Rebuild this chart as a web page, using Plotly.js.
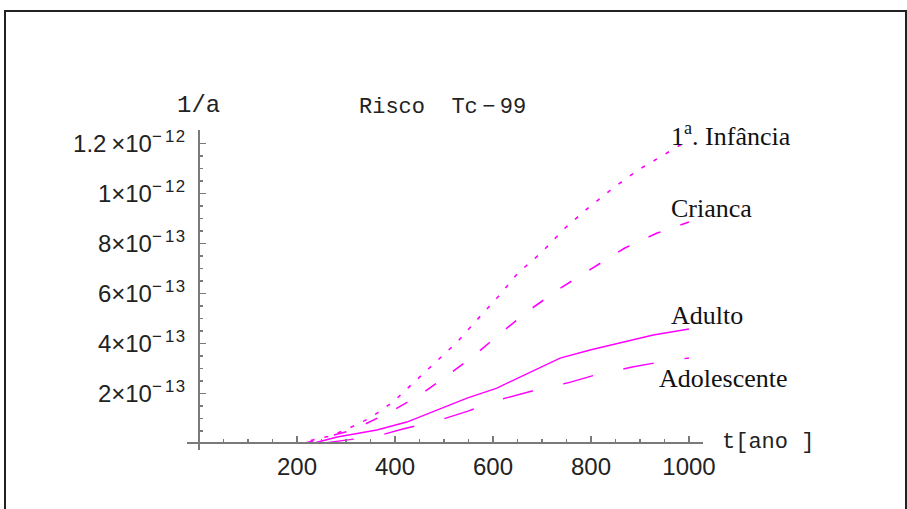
<!DOCTYPE html>
<html>
<head>
<meta charset="utf-8">
<script src="https://cdn.plot.ly/plotly-3.0.1.min.js"></script>
<style>html,body{margin:0;padding:0;background:#fff;}#chart{width:907px;height:509px;}</style>
</head>
<body>
<div id="chart"></div>
<script>
// Series (t in years, risk in 1/a)
const tInfancia = [0, 100, 202, 267, 298, 349, 396, 437, 482, 527, 567, 610, 651, 700, 747, 794, 845, 896, 955, 982, 1000];
const vInfancia = [0, 0, 0, 2.9e-14, 5.3e-14, 1.01e-13, 1.65e-13, 2.41e-13, 3.21e-13, 4.05e-13, 4.93e-13, 5.85e-13, 6.81e-13, 7.65e-13, 8.61e-13, 9.41e-13, 1.021e-12, 1.093e-12, 1.161e-12, 1.193e-12, 1.205e-12];

const tCrianca = [0, 100, 215, 267, 314, 390, 451, 508, 563, 618, 680, 741, 804, 869, 935, 992, 1000];
const vCrianca = [0, 0, 0, 2.9e-14, 5.3e-14, 1.25e-13, 1.93e-13, 2.73e-13, 3.53e-13, 4.45e-13, 5.41e-13, 6.25e-13, 7.01e-13, 7.81e-13, 8.41e-13, 8.81e-13, 8.85e-13];

const tAdulto = [0, 100, 233, 282, 363, 424, 486, 547, 608, 676, 737, 798, 859, 927, 1000];
const vAdulto = [0, 0, 0, 2.5e-14, 5.3e-14, 8.5e-14, 1.33e-13, 1.81e-13, 2.21e-13, 2.85e-13, 3.41e-13, 3.73e-13, 4.01e-13, 4.33e-13, 4.57e-13];

const tAdolescente = [0, 100, 250, 363, 416, 492, 549, 618, 680, 751, 808, 884, 941, 1000];
const vAdolescente = [0, 0, 0, 2.9e-14, 5.7e-14, 9.3e-14, 1.29e-13, 1.77e-13, 2.09e-13, 2.41e-13, 2.73e-13, 3.05e-13, 3.25e-13, 3.41e-13];

const xTickVals = [200, 400, 600, 800, 1000];
const xTickText = ['200', '400', '600', '800', '1000'];
const yTickVals = [2e-13, 4e-13, 6e-13, 8e-13, 1e-12, 1.2e-12];
const yTickText = [
  '2×10<sup>−\u20091\u200a3</sup>',
  '4×10<sup>−\u20091\u200a3</sup>',
  '6×10<sup>−\u20091\u200a3</sup>',
  '8×10<sup>−\u20091\u200a3</sup>',
  '1×10<sup>−\u20091\u200a2</sup>',
  '1.2\u2009×10<sup>−\u20091\u200a2</sup>'
];
const seriesLabels = ['1<sup>a</sup>. Infância', 'Crianca', 'Adulto', 'Adolescente'];

const MAG = '#ff00ff';
function tr(x, y, dash, w) {
  return {x: x, y: y, type: 'scatter', mode: 'lines',
    line: {color: MAG, width: w, dash: dash}, hoverinfo: 'skip', showlegend: false};
}
const data = [
  tr(tInfancia, vInfancia, '4px,10px', 1.6),
  tr(tCrianca, vCrianca, '13px,21px', 1.6),
  tr(tAdulto, vAdulto, 'solid', 1.4),
  tr(tAdolescente, vAdolescente, '31px,31px', 1.4)
];

// plot area: x 187..703 px, y 130..450 px
const L = 187, R = 703, T = 130, B = 450;
const px = v => (v - L) / (R - L);
const py = v => (B - v) / (B - T);

const axisColor = '#7a7a7a';
const tickFont = {family: 'Liberation Sans, Arial, sans-serif', size: 24, color: '#222'};
const monoFont = {family: 'Liberation Mono, Courier New, monospace', size: 22, color: '#222'};
const monoFontBig = {family: 'Liberation Mono, Courier New, monospace', size: 24, color: '#222'};
const serifFont = {family: 'Liberation Serif, Times New Roman, serif', size: 26, color: '#111'};

function ann(text, x, y, font) {
  return {text: text, xref: 'paper', yref: 'paper', x: px(x), y: py(y),
    xanchor: 'center', yanchor: 'middle', showarrow: false, font: font};
}

const layout = {
  width: 907, height: 509,
  margin: {l: L, r: 907 - R, t: T, b: 509 - B, pad: 0},
  paper_bgcolor: '#fff', plot_bgcolor: '#fff',
  showlegend: false,
  xaxis: {
    range: [-24.5, 1028.6], anchor: 'free', position: (B - 443.3) / (B - T),
    showgrid: false, zeroline: false, showline: true, linecolor: axisColor, linewidth: 2,
    tickmode: 'array', tickvals: xTickVals, ticktext: xTickText,
    ticks: 'inside', ticklen: 6, tickwidth: 1.5, tickcolor: axisColor,
    tickfont: tickFont, ticklabelstandoff: 2,
    minor: {tickmode: 'linear', tick0: 0, dtick: 50, ticks: 'inside', ticklen: 3, tickwidth: 1.5, tickcolor: axisColor, showgrid: false}
  },
  yaxis: {
    range: [-2.68e-14, 1.2532e-12], anchor: 'free', position: (199 - L) / (R - L),
    showgrid: false, zeroline: false, showline: true, linecolor: axisColor, linewidth: 2,
    tickmode: 'array', tickvals: yTickVals, ticktext: yTickText,
    ticks: 'inside', ticklen: 6, tickwidth: 1.5, tickcolor: axisColor,
    tickfont: tickFont, ticklabelstandoff: 8,
    minor: {tickmode: 'linear', tick0: 0, dtick: 5e-14, ticks: 'inside', ticklen: 3, tickwidth: 1.5, tickcolor: axisColor, showgrid: false}
  },
  annotations: [
    ann('1/a', 198, 105, monoFontBig),
    ann('Risco\u00a0\u00a0Tc\u2009−\u200999', 442, 108, monoFont),
    ann('t[ano\u00a0]', 768, 442, monoFont),
    ann(seriesLabels[0], 731, 134, serifFont),
    ann(seriesLabels[1], 711, 208, serifFont),
    ann(seriesLabels[2], 707, 315, serifFont),
    ann(seriesLabels[3], 723, 378, serifFont)
  ],
  shapes: [
    {type: 'rect', xref: 'paper', yref: 'paper', x0: px(5), x1: px(906), y0: py(540), y1: py(11),
     line: {color: '#222', width: 2}, fillcolor: 'rgba(0,0,0,0)', layer: 'above'}
  ]
};

Plotly.newPlot('chart', data, layout, {displayModeBar: false, staticPlot: true});
</script>
</body>
</html>
